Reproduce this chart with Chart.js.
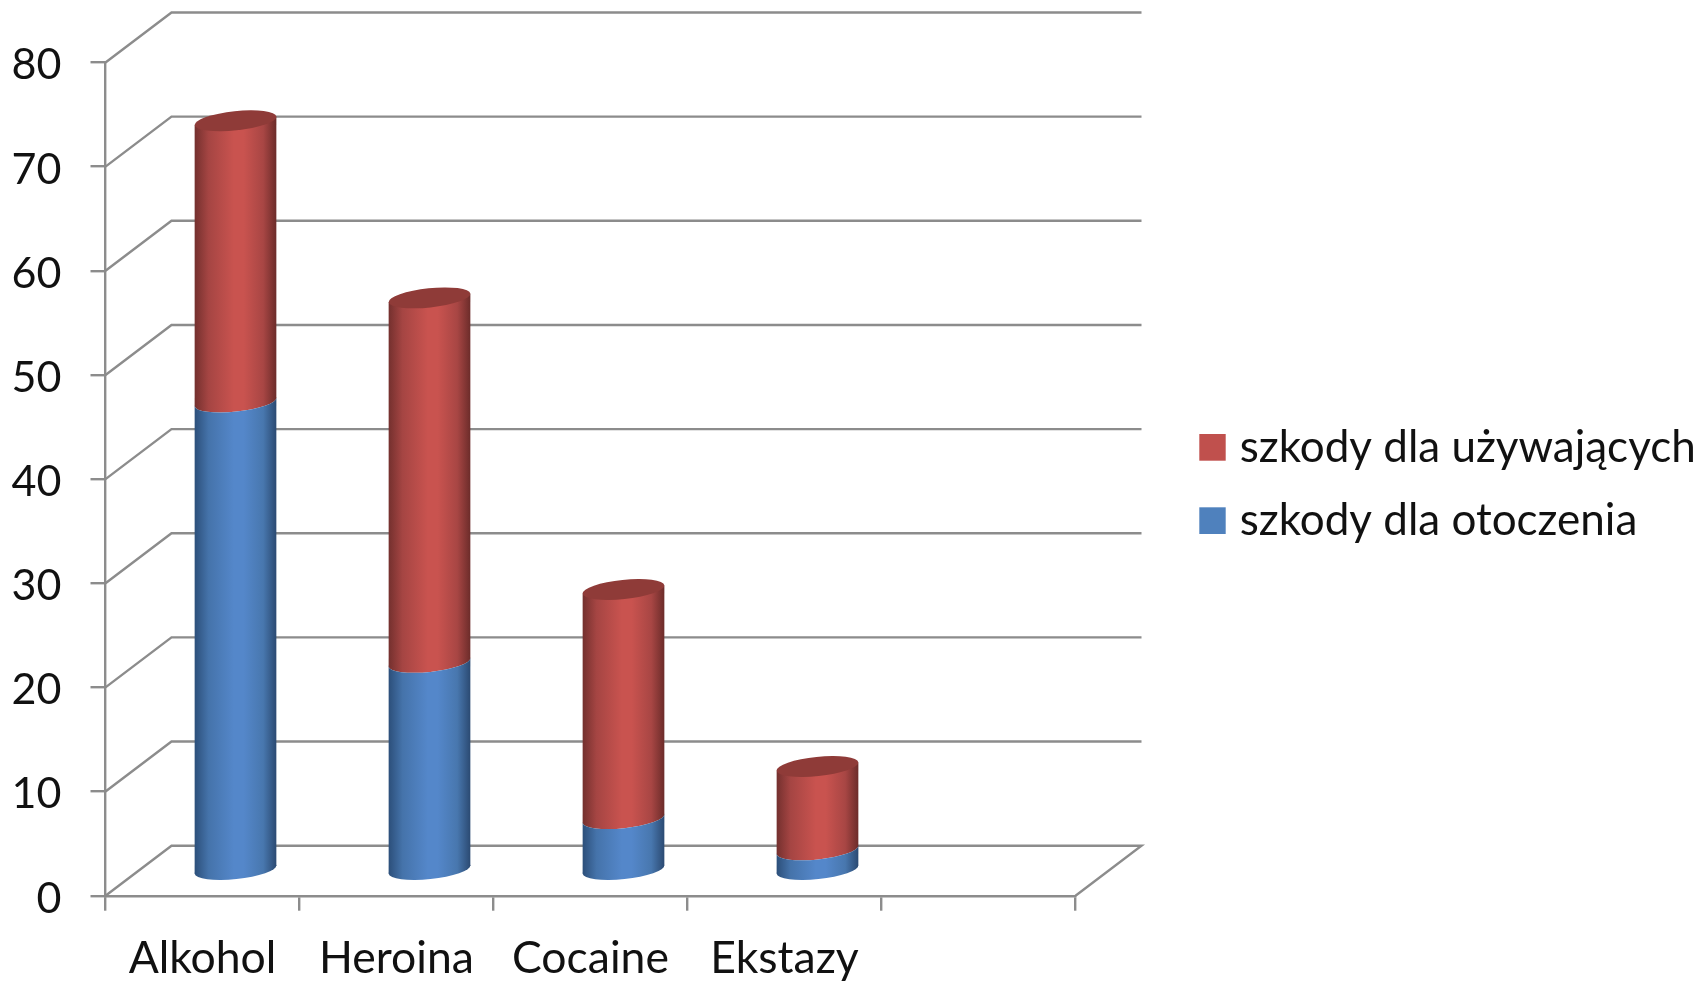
<!DOCTYPE html>
<html><head><meta charset="utf-8">
<style>html,body{margin:0;padding:0;background:#fff}canvas{display:block;filter:blur(0.6px)}</style>
<script src="https://cdn.jsdelivr.net/npm/chart.js@4"></script>
</head><body><canvas id="c" width="1702" height="983"></canvas>
<script>
const categories = ["Alkohol","Heroina","Cocaine","Ekstazy",""];
const otoczenia = [45,20,5,2,null];
const uzywajacych = [27,35,22,8,null];
const seriesNames = ["szkody dla otoczenia","szkody dla używających"];
const seriesColors = ["#4f81bd","#c0504d"];
const yMax = 80, yStep = 10;

const FAMILY = "Lato, Carlito, sans-serif";
const GRID = "#8c8c8c";
const DX = 66, DY = -50;           // depth of the 3D box
const SHADES = {
  "#c0504d": {stops:["#74302e","#a54543","#c9534f","#c9534f","#a84644","#6c2c2a"], cap:"#8f3b38"},
  "#4f81bd": {stops:["#2c4f7a","#4573aa","#5487ca","#5487ca","#4877ae","#2b4a72"], cap:"#3f6a9e"}
};
const TOP_COLOR = "#c0504d";

class CylinderElement extends Chart.BarElement {
  draw(ctx){
    const {x,y,base,width} = this, s = SHADES[this.options.backgroundColor];
    if (y == null || isNaN(y) || base - y < 0.01 || !s) return;
    const cx = x + DX/2, top = y + DY/2, bot = base + DY/2;
    const b = 9.6, rot = -6*Math.PI/180;
    const a = Math.sqrt(Math.max(0,(width/2)*(width/2) - (b*Math.sin(rot))*(b*Math.sin(rot))))/Math.cos(rot);
    const t = Math.atan(-(b/a)*Math.tan(rot));
    const tip = Math.abs(a*Math.cos(t)*Math.sin(rot) + b*Math.sin(t)*Math.cos(rot));
    const L = cx - width/2, R = cx + width/2;
    const g = ctx.createLinearGradient(L,0,R,0);
    [0,0.17,0.48,0.6,0.84,1].forEach((p,i)=>g.addColorStop(p,s.stops[i]));
    const isTop = this.options.backgroundColor === TOP_COLOR;
    ctx.save();
    if (!isTop){             // leave the upper segment's rounded foot visible
      ctx.beginPath();
      ctx.rect(0,0,ctx.canvas.width,ctx.canvas.height);
      ctx.ellipse(cx,top,a,b,rot,0,Math.PI*2);
      ctx.clip("evenodd");
    }
    ctx.fillStyle = g;
    ctx.beginPath(); ctx.ellipse(cx,bot,a,b,rot,0,Math.PI*2); ctx.fill();
    ctx.beginPath();
    ctx.moveTo(L,top+tip); ctx.lineTo(R,top-tip); ctx.lineTo(R,bot-tip); ctx.lineTo(L,bot+tip); ctx.closePath();
    ctx.fill();
    ctx.restore();
    if (isTop){
      ctx.fillStyle = s.cap;
      ctx.beginPath(); ctx.ellipse(cx,top,a,b,rot,0,Math.PI*2); ctx.fill();
    }
  }
}
CylinderElement.id = "cylinderBar";
CylinderElement.defaults = Chart.BarElement.defaults;
class CylinderController extends Chart.BarController {}
CylinderController.id = "cylinder";
CylinderController.defaults = Object.assign({}, Chart.BarController.defaults, {dataElementType:"cylinderBar"});
CylinderController.overrides = Chart.BarController.overrides;
Chart.register(CylinderElement, CylinderController);

const box3d = {
  id:"box3d",
  afterLayout(chart){
    const lg = chart.legend;
    lg.left = 1178; lg.right = 1702;
    lg.top = 380; lg.bottom = 588;
  },
  beforeDatasetsDraw(chart){
    const {ctx, scales:{x:sx,y:sy}} = chart;
    const l = sx.left, r = sx.right;
    ctx.save();
    ctx.strokeStyle = GRID; ctx.lineWidth = 2.4;
    sy.ticks.forEach(t=>{
      const p = sy.getPixelForValue(t.value);
      ctx.beginPath();
      ctx.moveTo(l,p); ctx.lineTo(l+DX,p+DY); ctx.lineTo(r+DX,p+DY);
      if (t.value === 0) { ctx.lineTo(r,p); }
      ctx.stroke();
    });
    ctx.restore();
  }
};

new Chart(document.getElementById("c"),{
  type:"cylinder",
  data:{labels:categories,datasets:[
    {label:seriesNames[0],data:otoczenia,backgroundColor:seriesColors[0],barThickness:81.7,clip:false},
    {label:seriesNames[1],data:uzywajacych,backgroundColor:seriesColors[1],barThickness:81.7,clip:false}
  ]},
  options:{
    responsive:false, animation:false, devicePixelRatio:1,
    layout:{padding:{top:62.5,left:0,right:268,bottom:0}},
    scales:{
      x:{stacked:true,
        afterFit(s){s.height=87.3;},
        grid:{offset:true,drawOnChartArea:false,drawTicks:true,tickLength:15,color:GRID,lineWidth:2.4},
        border:{color:GRID,width:2.4},
        ticks:{font:{family:FAMILY,size:44.5},color:"#111",padding:21,maxRotation:0,autoSkip:false}},
      y:{stacked:true,min:0,max:yMax,
        afterFit(s){s.width=105.5;},
        grid:{drawOnChartArea:false,tickLength:15,color:GRID,lineWidth:2.4},
        border:{color:GRID,width:2.4},
        ticks:{stepSize:yStep,font:{family:FAMILY,size:43},color:"#111",padding:29,labelOffset:3}}
    },
    plugins:{
      tooltip:{enabled:false},
      legend:{position:"right",
        labels:{font:{family:FAMILY,size:44},color:"#111",boxWidth:10.4,boxHeight:10.7,padding:29.3,
          generateLabels(chart){
            return chart.data.datasets.map((d,i)=>({text:d.label,fillStyle:d.backgroundColor,strokeStyle:d.backgroundColor,lineWidth:16,datasetIndex:i,fontColor:"#111",hidden:false})).reverse();
          }}}
    }
  },
  plugins:[box3d]
});
</script></body></html>
